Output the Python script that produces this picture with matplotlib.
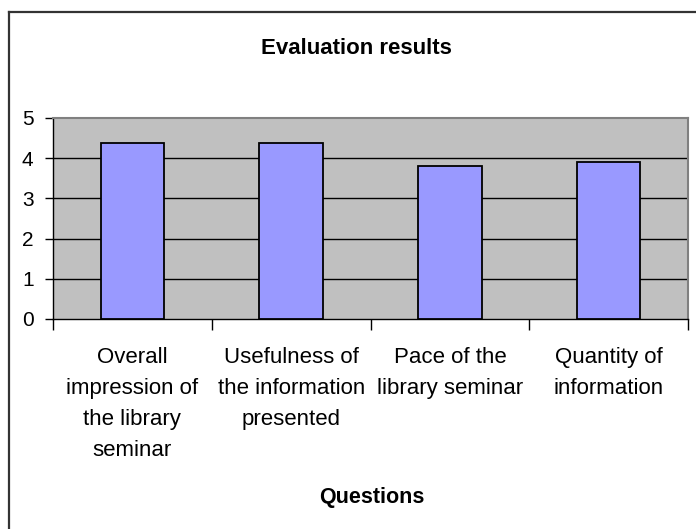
import matplotlib
matplotlib.use("Agg")
import matplotlib.pyplot as plt
from matplotlib.lines import Line2D

plt.rcParams['font.family'] = ['Liberation Sans', 'DejaVu Sans']

categories = ["Overall\nimpression of\nthe library\nseminar",
              "Usefulness of\nthe information\npresented",
              "Pace of the\nlibrary seminar",
              "Quantity of\ninformation"]
values = [4.39, 4.39, 3.81, 3.90]
yticks = [0, 1, 2, 3, 4, 5]
title = "Evaluation results"
xlabel = "Questions"

W, H = 696, 529
fig = plt.figure(figsize=(W / 100, H / 100), dpi=100)
fig.patch.set_facecolor('white')

x0, x1, ytop, ybot = 53, 688, 118, 319
ax = fig.add_axes([x0 / W, 1 - ybot / H, (x1 - x0) / W, (ybot - ytop) / H])
ax.set_facecolor('#C0C0C0')

pos = list(range(len(values)))
ax.bar(pos, values, width=0.4, color='#9999FF', edgecolor='black', linewidth=1.3, zorder=3)
ax.set_xlim(-0.5, len(values) - 0.5)
ax.set_ylim(0, 5)

for v in yticks[1:-1]:
    ax.axhline(v, color='black', linewidth=1.0, zorder=1)

ax.set_yticks(yticks)
ax.set_yticklabels([str(t) for t in yticks], fontsize=15)
ax.tick_params(axis='y', length=6, width=1, direction='out', pad=8, colors='black')

ax.set_xticks(pos)
ax.set_xticklabels(categories, fontsize=16, linespacing=1.62)
ax.tick_params(axis='x', which='major', length=0, pad=20)
ax.set_xticks([p - 0.5 for p in pos] + [len(values) - 0.5], minor=True)
ax.tick_params(axis='x', which='minor', length=8, width=1, direction='out', colors='black')

for s in ['left', 'bottom']:
    ax.spines[s].set_color('black')
    ax.spines[s].set_linewidth(1.0)
for s in ['top', 'right']:
    ax.spines[s].set_color('#808080')
    ax.spines[s].set_linewidth(1.5)

fig.text(356.5 / W, 1 - 54.3 / H, title, ha='center', va='baseline', fontsize=16, fontweight='bold')
fig.text(372 / W, 1 - 503.3 / H, xlabel, ha='center', va='baseline', fontsize=15.5, fontweight='bold')

# outer chart border
fig.add_artist(Line2D([8.5 / W, 8.5 / W], [1 - 12 / H, -0.01], transform=fig.transFigure,
                      color='#333333', linewidth=1.6))
fig.add_artist(Line2D([8.5 / W, 1.01], [1 - 12 / H, 1 - 12 / H], transform=fig.transFigure,
                      color='#333333', linewidth=1.6))

fig.savefig('out.png', dpi=100)
